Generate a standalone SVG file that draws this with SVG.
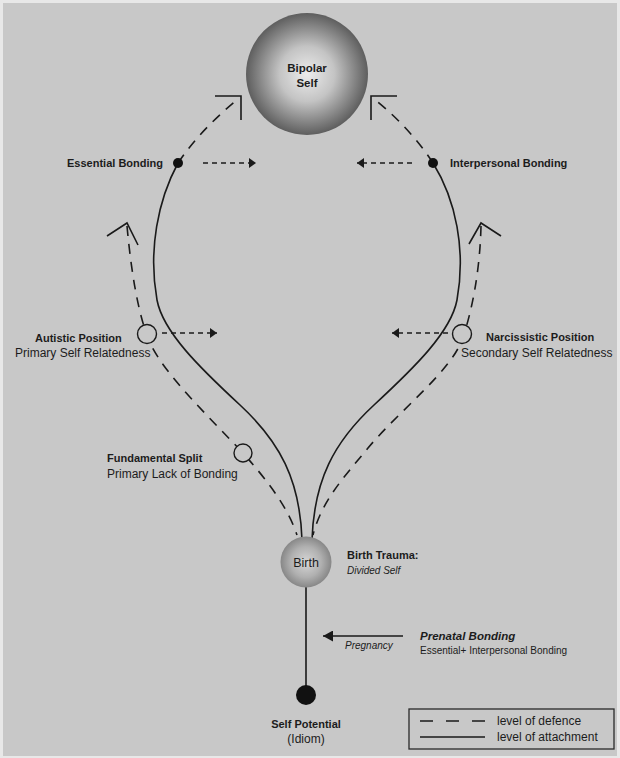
<svg xmlns="http://www.w3.org/2000/svg" width="620" height="758" viewBox="0 0 620 758">
<style>
.txt{font-family:"Liberation Sans",Arial,sans-serif;fill:#1c1c1c}
.b{font-weight:bold;font-size:11px}
.r{font-size:12px}
.att{fill:none;stroke:#1a1a1a;stroke-width:1.6}
.def{fill:none;stroke:#1a1a1a;stroke-width:1.6;stroke-dasharray:10 8}
.dot{fill:none;stroke:#1a1a1a;stroke-width:1.5;stroke-dasharray:5 4}
.open{fill:#c8c8c8;stroke:#1a1a1a;stroke-width:1.4}
.head{fill:none;stroke:#1a1a1a;stroke-width:1.6}
</style>
<defs>
<radialGradient id="gBig" cx="0.5" cy="0.5" r="0.5">
<stop offset="0" stop-color="#ececec"/>
<stop offset="0.45" stop-color="#c4c4c4"/>
<stop offset="1" stop-color="#5e5e5e"/>
</radialGradient>
<radialGradient id="gBirth" cx="0.5" cy="0.5" r="0.5">
<stop offset="0" stop-color="#d6d6d6"/>
<stop offset="0.6" stop-color="#b0b0b0"/>
<stop offset="1" stop-color="#878787"/>
</radialGradient>
<marker id="tri" viewBox="0 0 7 10" refX="7" refY="5" markerWidth="7" markerHeight="10" orient="auto" markerUnits="userSpaceOnUse">
<path d="M0,0 L7,5 L0,10 z" fill="#1a1a1a"/>
</marker>
<marker id="triBig" viewBox="0 0 10 11" refX="10" refY="5.5" markerWidth="10" markerHeight="11" orient="auto" markerUnits="userSpaceOnUse">
<path d="M0,0 L10,5.5 L0,11 z" fill="#1a1a1a"/>
</marker>
</defs>
<rect x="0" y="0" width="620" height="758" fill="#e8e8e8"/>
<rect x="3" y="3" width="614" height="753" fill="#c8c8c8"/>

<g id="connectors">
<!-- attachment (solid) -->
<path class="att" d="M178,163 C158,200 148,250 157,300 C163,332 200,368 240,405 C280,442 300,480 302,540"/>
<path class="att" d="M433,163 C456,200 466,250 457,300 C451,332 414,368 374,405 C334,442 314,480 312,540"/>
<line class="att" x1="306" y1="586" x2="306" y2="690"/>
<!-- defence (dashed) -->
<path class="def" d="M178,163 C195,138 215,118 238,99"/>
<path class="def" d="M433,163 C418,140 398,118 374,99"/>
<path class="def" d="M127,226 C131,270 138,315 150,343 C165,375 210,418 243,453 C265,478 287,505 297,535"/>
<path class="def" d="M481,226 C480,270 472,312 462,340 C450,372 400,410 368,448 C345,476 322,500 313,535"/>
<!-- open arrowheads -->
<polyline class="head" points="215,96 241,96 241,120"/>
<polyline class="head" points="397,96 371,96 371,120"/>
<polyline class="head" points="107,236 127,223 138,245"/>
<polyline class="head" points="469,244 481,223 501,236"/>
<!-- dotted arrows -->
<line class="dot" x1="203" y1="163" x2="256" y2="163" marker-end="url(#tri)"/>
<line class="dot" x1="412" y1="163" x2="357" y2="163" marker-end="url(#tri)"/>
<line class="dot" x1="162" y1="333" x2="217" y2="333" marker-end="url(#tri)"/>
<line class="dot" x1="448" y1="333" x2="392" y2="333" marker-end="url(#tri)"/>
<!-- prenatal arrow -->
<line x1="403" y1="636" x2="323" y2="636" stroke="#1a1a1a" stroke-width="1.6" marker-end="url(#triBig)"/>
</g>

<g id="bipolar-self">
<circle cx="307" cy="74" r="61" fill="url(#gBig)"/>
<text class="txt" x="307" y="72" text-anchor="middle" font-weight="bold" font-size="11.5">Bipolar</text>
<text class="txt" x="307" y="87" text-anchor="middle" font-weight="bold" font-size="11.5">Self</text>
</g>

<g id="essential-bonding">
<circle cx="178" cy="163" r="5" fill="#111"/>
<text class="txt b" x="163" y="167" text-anchor="end">Essential Bonding</text>
</g>

<g id="interpersonal-bonding">
<circle cx="433" cy="163" r="5" fill="#111"/>
<text class="txt b" x="450" y="167">Interpersonal Bonding</text>
</g>

<g id="autistic-position">
<circle class="open" cx="147" cy="334" r="9.5"/>
<text class="txt b" x="35" y="342">Autistic Position</text>
<text class="txt r" x="15" y="357">Primary Self Relatedness</text>
</g>

<g id="narcissistic-position">
<circle class="open" cx="462" cy="334" r="9.5"/>
<text class="txt b" x="486" y="341">Narcissistic Position</text>
<text class="txt r" x="461" y="357">Secondary Self Relatedness</text>
</g>

<g id="fundamental-split">
<circle class="open" cx="243" cy="453" r="9"/>
<text class="txt b" x="107" y="462" font-size="11.5">Fundamental Split</text>
<text class="txt r" x="107" y="478">Primary Lack of Bonding</text>
</g>

<g id="birth">
<circle cx="306" cy="562" r="25.5" fill="url(#gBirth)"/>
<text class="txt" x="306" y="567" text-anchor="middle" font-size="12.5">Birth</text>
<text class="txt b" x="347" y="559" font-size="11.5">Birth Trauma:</text>
<text class="txt" x="347" y="574" font-size="10" font-style="italic">Divided Self</text>
</g>

<g id="prenatal-bonding">
<text class="txt" x="345" y="649" font-size="10" font-style="italic">Pregnancy</text>
<text class="txt" x="420" y="640" font-size="11.5" font-weight="bold" font-style="italic">Prenatal Bonding</text>
<text class="txt" x="420" y="654" font-size="10">Essential+ Interpersonal Bonding</text>
</g>

<g id="self-potential">
<circle cx="306" cy="695" r="10" fill="#111"/>
<text class="txt b" x="306" y="728" text-anchor="middle" font-size="11.5">Self Potential</text>
<text class="txt r" x="306" y="743" text-anchor="middle">(Idiom)</text>
</g>

<g id="legend">
<rect x="409" y="709" width="205" height="40" fill="none" stroke="#2a2a2a" stroke-width="1.3"/>
<line x1="420" y1="721" x2="485" y2="721" stroke="#1a1a1a" stroke-width="1.5" stroke-dasharray="13 13"/>
<line x1="420" y1="737" x2="485" y2="737" stroke="#1a1a1a" stroke-width="1.5"/>
<text class="txt r" x="497" y="725">level of defence</text>
<text class="txt r" x="497" y="741">level of attachment</text>
</g>
</svg>
